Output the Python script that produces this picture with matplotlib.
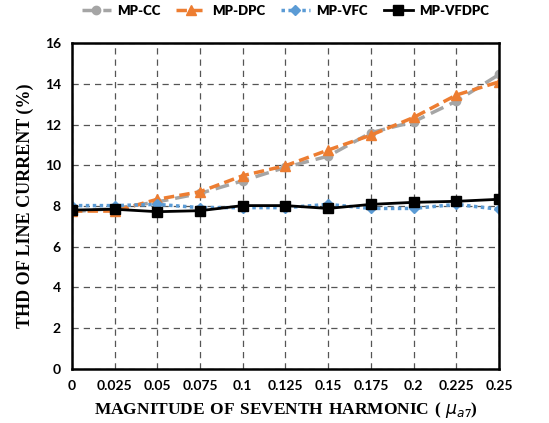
import numpy as np
import matplotlib
matplotlib.use("Agg")
import matplotlib.pyplot as plt

plt.rcParams['mathtext.fontset'] = 'custom'
plt.rcParams['mathtext.bf'] = 'Liberation Serif:bold'
plt.rcParams['mathtext.rm'] = 'Liberation Serif:bold'
plt.rcParams['mathtext.it'] = 'DejaVu Sans:italic'

x = [0, 0.025, 0.05, 0.075, 0.1, 0.125, 0.15, 0.175, 0.2, 0.225, 0.25]
x_labels = ['0', '0.025', '0.05', '0.075', '0.1', '0.125', '0.15', '0.175', '0.2', '0.225', '0.25']

mp_cc = [7.72, 7.88, 8.2, 8.62, 9.24, 9.9, 10.45, 11.6, 12.14, 13.15, 14.46]
mp_dpc = [7.75, 7.75, 8.33, 8.7, 9.49, 9.98, 10.75, 11.48, 12.35, 13.45, 14.1]
mp_vfc = [8.02, 8.02, 8.08, 7.92, 7.92, 7.92, 8.08, 7.88, 7.88, 8.08, 7.84]
mp_vfdpc = [7.8, 7.84, 7.72, 7.77, 8.02, 8.02, 7.88, 8.08, 8.18, 8.23, 8.33]

fig = plt.figure(figsize=(5.49, 4.23), dpi=100)
ax = fig.add_axes([0.131, 0.128, 0.778, 0.77])

ax.plot(x, mp_cc, color='#A5A5A5', lw=2.5, ls=(0, (4, 2)), marker='o', ms=6, label='MP-CC')
ax.plot(x, mp_dpc, color='#ED7D31', lw=2.5, ls=(0, (3, 1.5)), marker='^', ms=7, label='MP-DPC')
ax.plot(x, mp_vfc, color='#5B9BD5', lw=2.5, ls=(0, (1, 1)), marker='D', ms=5, label='MP-VFC')
ax.plot(x, mp_vfdpc, color='black', lw=2, ls='-', marker='s', ms=7, label='MP-VFDPC')

ax.set_xlim(0, 0.25)
ax.set_ylim(0, 16)
ax.set_xticks(x)
ax.set_xticklabels(x_labels)
ax.set_yticks(np.arange(0, 17, 2))
ax.grid(True, color='#555555', ls=(0, (5, 4)), lw=0.9)
ax.tick_params(length=0, pad=8)
for lab in ax.get_xticklabels() + ax.get_yticklabels():
    lab.set_fontweight('bold')
    lab.set_fontsize(10)
    lab.set_family('Lato')
for s in ax.spines.values():
    s.set_linewidth(1.8)

ax.set_xlabel(r'$\mathbf{MAGNITUDE\ OF\ SEVENTH\ HARMONIC\ (\ }\mathit{\mu_{a7}}\mathbf{)}$',
              fontsize=12.5, labelpad=6)
ax.set_ylabel('THD OF LINE CURRENT (%)', family='Liberation Serif',
              fontweight='bold', fontsize=13, labelpad=8)

ax.legend(loc='lower center', bbox_to_anchor=(0.5, 1.045), ncol=4, frameon=False,
          prop={'family': 'Lato', 'weight': 'heavy', 'size': 9.5},
          handlelength=2.2, columnspacing=1.2, handletextpad=0.5)

fig.savefig('out.png', dpi=100)
